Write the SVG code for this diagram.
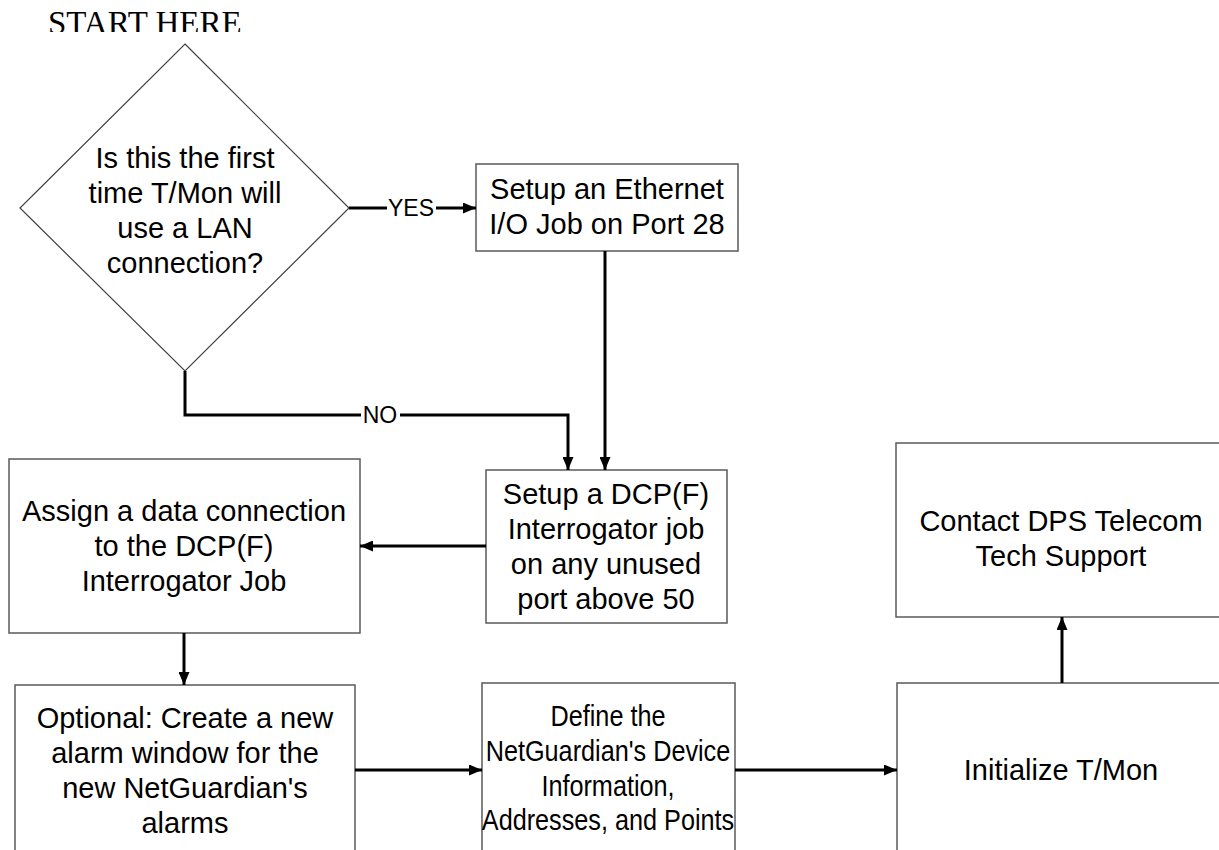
<svg xmlns="http://www.w3.org/2000/svg" width="1219" height="850" viewBox="0 0 1219 850">
<style>
.box{fill:#fff;stroke:#5a5a5a;stroke-width:1.5}
.dia{fill:#fff;stroke:#404040;stroke-width:1.2}
.t{font-family:"Liberation Sans",Arial,sans-serif;font-size:29px;fill:#000;text-anchor:middle}
.lbl{font-family:"Liberation Sans",Arial,sans-serif;font-size:23px;fill:#000;text-anchor:middle}
.c{fill:none;stroke:#000;stroke-width:3}
</style>
<defs>
<marker id="ah" viewBox="0 0 13 11" refX="13" refY="5.5" markerWidth="13" markerHeight="11" markerUnits="userSpaceOnUse" orient="auto">
<path d="M0,0 L13,5.5 L0,11 Z" fill="#000"/>
</marker>
<clipPath id="tc"><rect x="0" y="0" width="400" height="32"/></clipPath>
</defs>
<rect width="1219" height="850" fill="#fff"/>
<text x="48" y="34" clip-path="url(#tc)" font-family="'Liberation Serif','Times New Roman',serif" font-size="33" fill="#000">START HERE</text>

<g id="decision">
<polygon class="dia" points="185,44 349,208 185,371 20,208"/>
<text class="t"><tspan x="185" y="168">Is this the first</tspan><tspan x="185" y="203">time T/Mon will</tspan><tspan x="185" y="238">use a LAN</tspan><tspan x="185" y="273">connection?</tspan></text>
</g>
<g id="ethernet">
<rect class="box" x="476" y="164" width="262" height="87"/>
<text class="t"><tspan x="607" y="199">Setup an Ethernet</tspan><tspan x="607" y="234">I/O Job on Port 28</tspan></text>
</g>
<g id="dcp">
<rect class="box" x="486" y="470" width="241" height="153"/>
<text class="t"><tspan x="606" y="504">Setup a DCP(F)</tspan><tspan x="606" y="539">Interrogator job</tspan><tspan x="606" y="574">on any unused</tspan><tspan x="606" y="609">port above 50</tspan></text>
</g>
<g id="assign">
<rect class="box" x="9" y="459" width="351" height="174"/>
<text class="t"><tspan x="184" y="521">Assign a data connection</tspan><tspan x="184" y="556">to the DCP(F)</tspan><tspan x="184" y="591">Interrogator Job</tspan></text>
</g>
<g id="contact">
<rect class="box" x="896" y="443" width="340" height="174"/>
<text class="t"><tspan x="1061" y="531">Contact DPS Telecom</tspan><tspan x="1061" y="566">Tech Support</tspan></text>
</g>
<g id="optional">
<rect class="box" x="15" y="685" width="340" height="180"/>
<text class="t"><tspan x="185" y="728">Optional: Create a new</tspan><tspan x="185" y="763">alarm window for the</tspan><tspan x="185" y="798">new NetGuardian's</tspan><tspan x="185" y="833">alarms</tspan></text>
</g>
<g id="define">
<rect class="box" x="482" y="683" width="253" height="180"/>
<text class="t" transform="translate(608,0) scale(0.87,1) translate(-608,0)"><tspan x="608" y="726">Define the</tspan><tspan x="608" y="761">NetGuardian's Device</tspan><tspan x="608" y="796">Information,</tspan><tspan x="608" y="830">Addresses, and Points</tspan></text>
</g>
<g id="initialize">
<rect class="box" x="897" y="683" width="340" height="180"/>
<text class="t" x="1061" y="780">Initialize T/Mon</text>
</g>

<g id="connectors">
<path class="c" d="M349,208 H387"/>
<path class="c" d="M436,208 H476" marker-end="url(#ah)"/>
<text class="lbl" x="411" y="216">YES</text>
<path class="c" d="M605,251 V470" marker-end="url(#ah)"/>
<path class="c" d="M185,371 V415 H361"/>
<path class="c" d="M400,415 H568 V470" marker-end="url(#ah)"/>
<text class="lbl" x="380" y="423">NO</text>
<path class="c" d="M486,546 H360" marker-end="url(#ah)"/>
<path class="c" d="M184,633 V685" marker-end="url(#ah)"/>
<path class="c" d="M355,770 H482" marker-end="url(#ah)"/>
<path class="c" d="M735,770 H897" marker-end="url(#ah)"/>
<path class="c" d="M1062,683 V617" marker-end="url(#ah)"/>
</g>
</svg>
